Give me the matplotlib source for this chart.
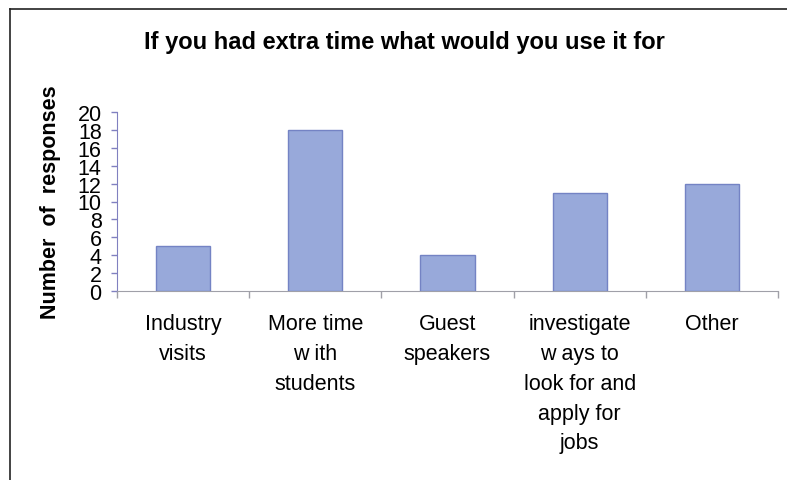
import matplotlib
matplotlib.use("Agg")
import matplotlib.pyplot as plt
from matplotlib.lines import Line2D
import numpy as np

categories = ["Industry\nvisits", "More time\nw ith\nstudents", "Guest\nspeakers",
              "investigate\nw ays to\nlook for and\napply for\njobs", "Other"]
responses = [5, 18, 4, 11, 12]
y_ticks = list(range(0, 21, 2))

plt.rcParams["font.family"] = ["Liberation Sans", "DejaVu Sans"]

fig = plt.figure(figsize=(7.87, 4.81), dpi=100)
fig.patch.set_facecolor("white")

# outer frame (top and left edges)
fig.add_artist(Line2D([10 / 787, 10 / 787], [0, 1 - 10 / 481], transform=fig.transFigure,
                      color="#222222", lw=1.2))
fig.add_artist(Line2D([10 / 787, 1], [1 - 10 / 481, 1 - 10 / 481], transform=fig.transFigure,
                      color="#222222", lw=1.2))

ax = fig.add_axes([117 / 787, 1 - 292 / 481, (778 - 117) / 787, (292 - 113) / 481])

x = np.arange(len(categories))
ax.bar(x, responses, width=0.41, color="#98A9DA", edgecolor="#7483C4", linewidth=1.0, zorder=3)

ax.set_xlim(-0.5, len(categories) - 0.5)
ax.set_ylim(0, 20)
ax.set_yticks(y_ticks)
ax.set_yticklabels([str(v) for v in y_ticks], fontsize=15.5)
ax.tick_params(axis="y", length=4, width=1, color="#8080C0", pad=7)

ax.set_xticks(x)
ax.set_xticklabels(categories, fontsize=15.5, linespacing=1.55, va="top")
ax.tick_params(axis="x", which="major", length=0, pad=16)
ax.set_xticks(np.arange(-0.5, len(categories)), minor=True)
ax.tick_params(axis="x", which="minor", length=5, width=1, color="#A0A0A8")

for side in ("top", "right"):
    ax.spines[side].set_visible(False)
ax.spines["left"].set_color("#8080C0")
ax.spines["bottom"].set_color("#A0A0A8")

ax.set_ylabel("Number  of  responses", fontsize=15.5, fontweight="bold", labelpad=12)
fig.text(404 / 787, 1 - 42 / 481, "If you had extra time what would you use it for",
         ha="center", va="center", fontsize=17, fontweight="bold")

fig.savefig("out.png", dpi=100)
